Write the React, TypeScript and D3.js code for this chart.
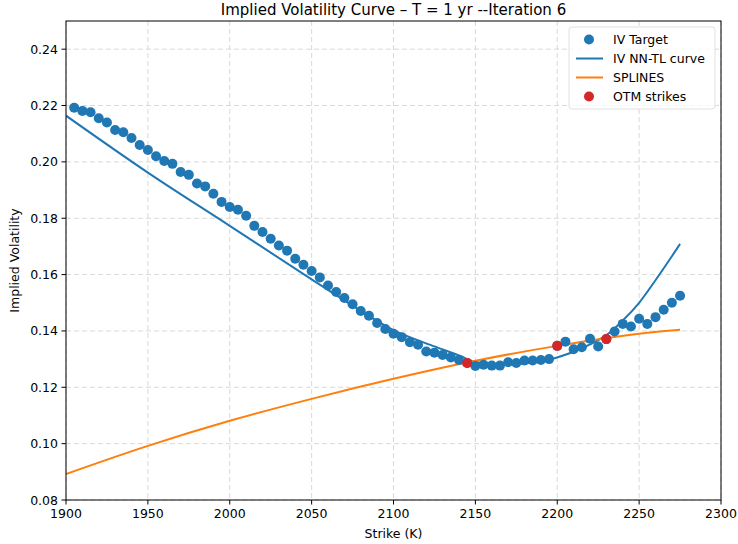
import React from "react";
import * as d3 from "d3";

const strikes: number[] = d3.range(1905, 2276, 5);
const ivTarget: number[] = [
  0.2192, 0.2181, 0.2176, 0.2155, 0.214, 0.2113, 0.2105, 0.2085, 0.206, 0.2042,
  0.202, 0.2003, 0.1993, 0.1964, 0.1954, 0.1923, 0.1913, 0.1887, 0.1858, 0.184,
  0.183, 0.1809, 0.1773, 0.1751, 0.1727, 0.1703, 0.1685, 0.1656, 0.1635, 0.1613,
  0.159, 0.1561, 0.1538, 0.1517, 0.1495, 0.1471, 0.1454, 0.1428, 0.1407, 0.139,
  0.1378, 0.136, 0.1351, 0.1327, 0.1323, 0.1315, 0.1306, 0.1297, 0.1286, 0.1276,
  0.128, 0.1277, 0.1277, 0.1289, 0.1286, 0.1295, 0.1295, 0.1297, 0.13, 0.1347,
  0.1362, 0.1335, 0.1342, 0.1372, 0.1345, 0.1371, 0.1398, 0.1425, 0.1416, 0.1443,
  0.1425, 0.1449, 0.1475, 0.15, 0.1525,
];

const nnStrikes: number[] = [1900, 1950, 2000, 2050, 2075, 2100, 2125, 2140, 2150, 2165, 2180, 2195, 2210, 2220, 2230, 2240, 2250, 2260, 2270, 2275];
const nnValues: number[] = [0.2164, 0.1962, 0.1773, 0.1583, 0.149, 0.1403, 0.1345, 0.1313, 0.129, 0.1282, 0.1284, 0.1298, 0.1326, 0.1352, 0.1385, 0.1437, 0.15, 0.158, 0.1665, 0.1709];

const splineStrikes: number[] = [1900, 1950, 2000, 2050, 2100, 2150, 2200, 2250, 2275];
const splineValues: number[] = [0.0892, 0.0992, 0.1081, 0.1159, 0.123, 0.1294, 0.1347, 0.139, 0.1404];

const otmStrikes: number[] = [2145, 2200, 2230];
const otmValues: number[] = [0.1286, 0.1347, 0.1371];

const xTicks: number[] = [1900, 1950, 2000, 2050, 2100, 2150, 2200, 2250, 2300];
const yTicks: number[] = [0.08, 0.1, 0.12, 0.14, 0.16, 0.18, 0.2, 0.22, 0.24];

const legendLabels: string[] = ["IV Target", "IV NN-TL curve", "SPLINES", "OTM strikes"];

const W = 738;
const H = 544;
const L = 66, R = 721, T = 21, B = 500;
const BLUE = "#1f77b4", ORANGE = "#ff7f0e", RED = "#d62728";
const FONT = "DejaVu Sans, sans-serif";

export default function App() {
  const x = d3.scaleLinear().domain([1900, 2300]).range([L, R]);
  const y = d3.scaleLinear().domain([0.08, 0.25]).range([B, T]);

  const line = d3
    .line<[number, number]>()
    .x((d) => x(d[0]))
    .y((d) => y(d[1]))
    .curve(d3.curveCatmullRom.alpha(0.5));

  const nnPath = line(nnStrikes.map((k, i) => [k, nnValues[i]] as [number, number])) || "";
  const splinePath = line(splineStrikes.map((k, i) => [k, splineValues[i]] as [number, number])) || "";

  const lgX = 569, lgY = 27, lgW = 146, lgH = 82;

  return (
    <svg width={W} height={H} style={{ position: "absolute", left: 0, top: 0, background: "#fff" }} fontFamily={FONT}>
      <rect x={0} y={0} width={W} height={H} fill="#fff" />
      <defs>
        <clipPath id="plotclip">
          <rect x={L} y={T} width={R - L} height={B - T} />
        </clipPath>
      </defs>
      {/* grid */}
      <g stroke="#d0d0d0" strokeWidth={1} strokeDasharray="5,3" opacity={0.8}>
        {xTicks.map((t) => (
          <line key={"gx" + t} x1={x(t)} x2={x(t)} y1={T} y2={B} />
        ))}
        {yTicks.map((t) => (
          <line key={"gy" + t} x1={L} x2={R} y1={y(t)} y2={y(t)} />
        ))}
      </g>
      <g clipPath="url(#plotclip)">
        <path d={nnPath} fill="none" stroke={BLUE} strokeWidth={2} />
        <path d={splinePath} fill="none" stroke={ORANGE} strokeWidth={2} />
        {strikes.map((k, i) => (
          <circle key={"p" + k} cx={x(k)} cy={y(ivTarget[i])} r={5} fill={BLUE} />
        ))}
        {otmStrikes.map((k, i) => (
          <circle key={"o" + k} cx={x(k)} cy={y(otmValues[i])} r={5} fill={RED} />
        ))}
      </g>
      {/* spines */}
      <rect x={L} y={T} width={R - L} height={B - T} fill="none" stroke="#000" strokeWidth={1} />
      {/* ticks */}
      <g fontSize={12.5} fill="#000">
        {xTicks.map((t) => (
          <g key={"xt" + t}>
            <line x1={x(t)} x2={x(t)} y1={B} y2={B + 4.5} stroke="#000" strokeWidth={1} />
            <text x={x(t)} y={B + 18} textAnchor="middle">{t}</text>
          </g>
        ))}
        {yTicks.map((t) => (
          <g key={"yt" + t}>
            <line x1={L - 4.5} x2={L} y1={y(t)} y2={y(t)} stroke="#000" strokeWidth={1} />
            <text x={L - 8} y={y(t) + 4.5} textAnchor="end">{t.toFixed(2)}</text>
          </g>
        ))}
      </g>
      <text x={(L + R) / 2} y={538} textAnchor="middle" fontSize={12.5}>Strike (K)</text>
      <text transform={`translate(19,${(T + B) / 2}) rotate(-90)`} textAnchor="middle" fontSize={12.5}>Implied Volatility</text>
      <text x={(L + R) / 2} y={15} textAnchor="middle" fontSize={15}>Implied Volatility Curve – T = 1 yr --Iteration 6</text>
      {/* legend */}
      <g>
        <rect x={lgX} y={lgY} width={lgW} height={lgH} rx={3} fill="#fff" fillOpacity={0.8} stroke="#e0e0e0" strokeWidth={1} />
        {legendLabels.map((lab, i) => {
          const cy = 39.5 + i * 19;
          return (
            <g key={lab}>
              {i === 0 || i === 3 ? (
                <circle cx={589} cy={cy} r={5} fill={i === 0 ? BLUE : RED} />
              ) : (
                <line x1={576} x2={603} y1={cy} y2={cy} stroke={i === 1 ? BLUE : ORANGE} strokeWidth={2} />
              )}
              <text x={613} y={cy + 4.5} fontSize={12.5}>{lab}</text>
            </g>
          );
        })}
      </g>
    </svg>
  );
}
